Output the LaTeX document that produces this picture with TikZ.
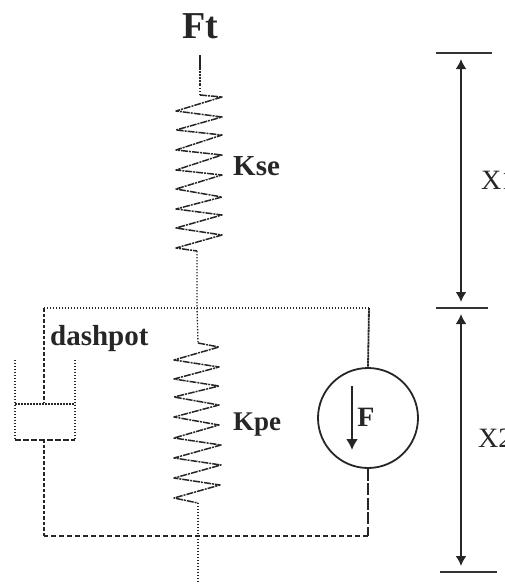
\documentclass[tikz,border=0pt]{standalone}
\usepackage{fontspec}
\setmainfont{Liberation Serif}
\usetikzlibrary{arrows.meta}
\tikzset{
  wire/.style={line width=1.3pt,dash pattern=on 1.3pt off 1.7pt,black!85},
  dashw/.style={line width=1.3pt,dash pattern=on 5.5pt off 2.5pt,black!85},
  solidw/.style={line width=1.8pt,dash pattern=on 2.6pt off .5pt,black!85},
  coil/.style={line width=1.5pt,dash pattern=on 7pt off 1pt on 2pt off 1pt,black!85,line join=round},
  dim/.style={line width=2.2pt,black!85,{Latex[length=10pt,width=11pt]}-{Latex[length=10pt,width=11pt]}},
  lab/.style={inner sep=0pt,font=\bfseries,black!85}
}
\begin{document}
\begin{tikzpicture}[x=1pt,y=-1pt]
\useasboundingbox (0,0) rectangle (504,584);
\clip (0,0) rectangle (504,584);
% labels
\node[lab,font=\fontsize{38}{38}\selectfont\bfseries] (ft) at (200,26) {Ft};
\node[lab,font=\fontsize{29}{29}\selectfont\bfseries,anchor=west] (kse) at (233,166) {Kse};
\node[lab,font=\fontsize{27}{27}\selectfont\bfseries,anchor=west] (kpe) at (233,425) {Kpe};
\node[lab,font=\fontsize{29}{29}\selectfont\bfseries,anchor=west] (dp) at (50,339) {dashpot};
% named points
\coordinate (topA) at (200,55);
\coordinate (s1t) at (200,95);
\coordinate (s1b) at (197,251);
\coordinate (junc) at (197,308);
\coordinate (s2t) at (198,343);
\coordinate (s2b) at (198,503);
\coordinate (botJ) at (198,536);
\coordinate (botE) at (198,583);
\coordinate (tl) at (44,308);
\coordinate (tr) at (369,308);
\coordinate (bl) at (44,536);
\coordinate (br) at (368,536);
% upper spring
\draw[solidw] (topA) -- (200,85);
\draw[wire] (200,85) -- (s1t);
\draw[coil] (s1t) -- (222,97) -- (176,111) -- (222,117) -- (176,130) -- (222,135) -- (176,150) -- (222,155) -- (176,170) -- (222,175) -- (176,189) -- (222,197) -- (176,209) -- (222,215) -- (176,228) -- (222,235) -- (176,248) -- (s1b);
\draw[wire] (s1b) -- (junc) -- (s2t);
% lower spring
\draw[coil] (s2t) -- (219,347) -- (174,360) -- (219,367) -- (174,379) -- (219,386) -- (174,397) -- (219,405) -- (174,417) -- (219,425) -- (174,438) -- (221,445) -- (174,458) -- (221,465) -- (174,478) -- (220,485) -- (174,498) -- (s2b);
\draw[wire] (s2b) -- (botJ) -- (botE);
% top bus and F branch
\draw[wire] (tl) -- (tr);
\node[circle,draw,line width=1.8pt,black!85,minimum size=100pt,inner sep=0pt] (fc) at (368,418) {};
\draw[solidw] (tr) -- (fc.north);
\draw[line width=2pt,black!85,-{Latex[length=11pt,width=12pt]}] (352,386) -- (352,450);
\node[lab,font=\fontsize{28}{28}\selectfont\bfseries] (f) at (366,417) {F};
% bottom bus
\draw[line width=1.2pt,dash pattern=on 12pt off 2.5pt,black!85] (fc.south) -- (br);
\draw[dashw] (br) -- (bl);
\draw[solidw,dash pattern=on 3.5pt off 2pt] (bl) -- (44,441);
\draw[solidw,dash pattern=on 3.5pt off 2pt] (tl) -- (44,403);
% dashpot
\draw[wire] (15,360) -- (15,440);
\draw[wire] (75,360) -- (75,440);
\draw[line width=2pt,black!85,dash pattern=on 2pt off 1pt] (15,404) -- (75,404);
\draw[dashw] (15,440) -- (75,440);
% dimensions
\draw[line width=1.6pt,black!80] (436,53) -- (492,53);
\draw[line width=1.6pt,black!80] (436,308) -- (488,308);
\draw[line width=1.6pt,black!80] (440,572) -- (497,572);
\draw[dim] (461,59) -- (461,302);
\draw[dim] (461,314) -- (461,566);
\node[lab,font=\fontsize{28}{28}\selectfont,anchor=west] (x1) at (481,180) {X1};
\node[lab,font=\fontsize{28}{28}\selectfont,anchor=west] (x2) at (478,438) {X2};
\end{tikzpicture}
\end{document}
